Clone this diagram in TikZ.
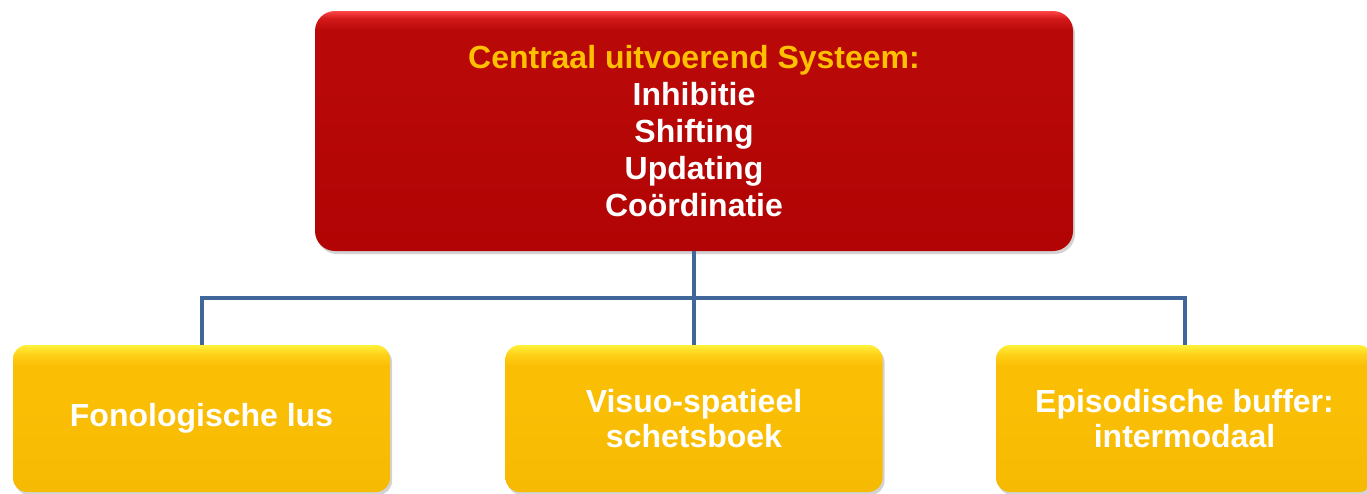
\documentclass[tikz,border=0pt]{standalone}
\usepackage{fontspec}
\setmainfont{Liberation Sans}
\usetikzlibrary{shadows}
\definecolor{redbase}{HTML}{B80808}
\definecolor{reddark}{HTML}{B20404}
\definecolor{redhi}{HTML}{FF4646}
\definecolor{redmid}{HTML}{D41A1A}
\definecolor{yelbase}{HTML}{FABE05}
\definecolor{yeldark}{HTML}{F7BA03}
\definecolor{yelhi}{HTML}{FFF23C}
\definecolor{yelmid}{HTML}{FFD21A}
\definecolor{titleyel}{HTML}{FFC000}
\definecolor{connblue}{HTML}{41679A}
\pgfdeclareverticalshading{redbevel}{100bp}{color(0bp)=(reddark); color(25bp)=(reddark); color(60bp)=(redbase); color(71bp)=(redbase); color(73.5bp)=(redmid); color(75bp)=(redhi); color(100bp)=(redhi)}
\pgfdeclareverticalshading{yelbevel}{100bp}{color(0bp)=(yeldark); color(25bp)=(yeldark); color(55bp)=(yelbase); color(68bp)=(yelbase); color(72bp)=(yelmid); color(75bp)=(yelhi); color(100bp)=(yelhi)}
\tikzset{
  redbox/.style={shading=redbevel, rounded corners=20pt, minimum width=758pt, minimum height=240pt,
    inner sep=0pt, align=center, text=white, font=\bfseries\fontsize{32}{37}\selectfont,
    drop shadow={opacity=0.35, shadow xshift=2pt, shadow yshift=-3pt}},
  yelbox/.style={shading=yelbevel, rounded corners=14pt, minimum width=377pt, minimum height=147pt,
    inner sep=0pt, align=center, text=white, font=\bfseries\fontsize{32}{35}\selectfont,
    drop shadow={opacity=0.35, shadow xshift=2pt, shadow yshift=-3pt}},
  conn/.style={draw=connblue, line width=4pt}
}
\begin{document}
\begin{tikzpicture}[x=1pt,y=-1pt]
\useasboundingbox (0,0) rectangle (1367,493);
\node[redbox] (top) at (694,131) {\textcolor{titleyel}{Centraal uitvoerend Systeem:}\\Inhibitie\\Shifting\\Updating\\Coördinatie};
\node[yelbox] (fon) at (201.5,418.5) {Fonologische lus};
\node[yelbox] (vis) at (694,418.5) {Visuo-spatieel\\schetsboek};
\node[yelbox] (epi) at (1184.5,418.5) {Episodische buffer:\\intermodaal};
\draw[conn] (top.south) -- (vis.north);
\draw[conn] (fon.north) -- ++(0,-47) coordinate (bus) -| (epi.north);
\end{tikzpicture}
\end{document}
